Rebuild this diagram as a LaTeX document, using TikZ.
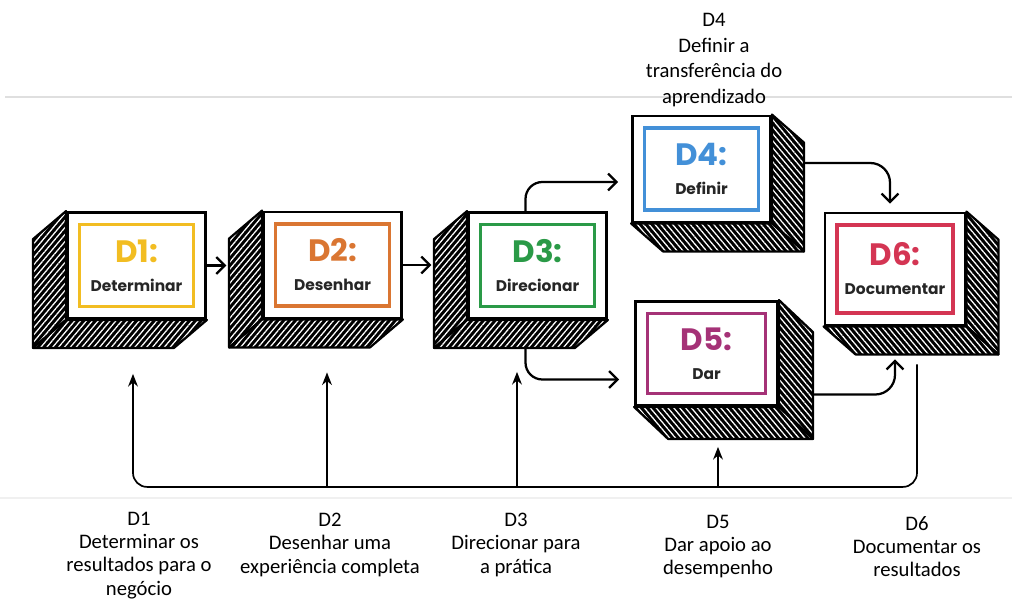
\documentclass[tikz,border=0pt]{standalone}
\usepackage{fontspec}
\setmainfont{Carlito}
\newfontfamily\handfont{Poppins}
\usetikzlibrary{positioning,calc,arrows.meta,patterns.meta}

\definecolor{dumcol}{HTML}{F2BD22}
\definecolor{doiscol}{HTML}{DA7632}
\definecolor{trescol}{HTML}{2A9A47}
\definecolor{quatrocol}{HTML}{4390D8}
\definecolor{cincocol}{HTML}{A53277}
\definecolor{seiscol}{HTML}{D43553}

\tikzset{
  face/.style={rectangle, draw=black, line width=2pt, fill=white,
               minimum width=3.45cm, minimum height=2.65cm, inner sep=0pt,
               align=center, text=black!85, font=\handfont\fontsize{11}{20.6}\selectfont,
               path picture={\draw[#1, line width=2.6pt]
                 ([shift={(.3cm,-.3cm)}]path picture bounding box.north west) rectangle
                 ([shift={(-.3cm,.3cm)}]path picture bounding box.south east);}},
  hatch/.style={draw=black, line width=1.6pt, line join=round, preaction={fill=black},
                pattern={Lines[angle=#1,distance=3.2pt,line width=0.9pt]}, pattern color=white},
  flow/.style={line width=1.6pt, -{Straight Barb[length=6pt,width=12pt]}},
  fb/.style={line width=1.2pt},
  fbtip/.style={fb, -{Stealth[length=9pt,width=7pt]}},
  lbl/.style={align=center, inner sep=0pt, anchor=north, font=\fontsize{14.7}{16.5}\selectfont}
}

\begin{document}
\begin{tikzpicture}[x=0.025cm, y=-0.025cm]
\useasboundingbox (0,0) rectangle (1012,599);

% faint slide lines
\draw[gray!25, line width=0.8pt] (5,97) -- (1012,97);
\draw[gray!12, line width=0.8pt] (0,498) -- (1012,498);

% front faces
\node[face=dumcol] (d1) at (136.5,265.5)
  {{\fontsize{22}{20.6}\selectfont\bfseries\color{dumcol}D1:}\\\textbf{Determinar}};
\node[face=doiscol] (d2) at (332.5,265)
  {{\fontsize{22}{20.6}\selectfont\bfseries\color{doiscol}D2:}\\\textbf{Desenhar}};
\node[face=trescol] (d3) at (537.5,265.5)
  {{\fontsize{22}{20.6}\selectfont\bfseries\color{trescol}D3:}\\\textbf{Direcionar}};
\node[face=quatrocol] (d4) at (701.5,169)
  {{\fontsize{22}{20.6}\selectfont\bfseries\color{quatrocol}D4:}\\\textbf{Definir}};
\node[face=cincocol, minimum width=3.55cm, minimum height=2.6cm] (d5) at (706.5,353.5)
  {{\fontsize{22}{20.6}\selectfont\bfseries\color{cincocol}D5:}\\\textbf{Dar}};
\node[face=seiscol, minimum width=3.5cm, minimum height=2.8cm] (d6) at (895,269)
  {{\fontsize{22}{20.6}\selectfont\bfseries\color{seiscol}D6:}\\\textbf{Documentar}};

% hatched sides and bottoms
\foreach \n/\dx/\dy/\s/\a in {d1/-33/28/west/50, d2/-33/28/west/50, d3/-33/28/west/50,
                               d4/32/28/east/-50, d5/34/32/east/-50, d6/32/28/east/-50} {
  \draw[hatch=\a] (\n.north \s) -- ++(\dx,\dy) -- ($(\n.south \s)+(\dx,\dy)$) -- (\n.south \s) -- cycle;
  \draw[hatch=\a] (\n.south west) -- ++(\dx,\dy) -- ($(\n.south east)+(\dx,\dy)$) -- (\n.south east) -- cycle;
  \coordinate (\n-side) at ($(\n.\s)+(\dx,\dy)$);
}

% flow between the steps
\draw[flow] (d1.east) -- ([xshift=-2pt]d1.east -| d2-side);
\draw[flow] (d2.east) -- ([xshift=-2pt]d2.east -| d3-side);
\draw[flow, rounded corners=12pt] ($(d3.north)+(-12,0)$) |- ($(d4.west)+(-13,13)$);
\draw[flow, rounded corners=12pt] ($(d3.south)+(-12,29)$) |- ($(d5.west)+(-15,26)$);
\draw[flow, rounded corners=14pt] ($(d4.east)+(32,-6)$) -| ($(d6.north)+(-5,-8)$);
\draw[flow, rounded corners=14pt] ($(d5.east)+(34,41)$) -| ($(d6.south)+(0,33)$);

% feedback line
\coordinate (base) at ($(d1.south)+(-3.5,167)$);
\draw[fbtip, rounded corners=10pt] ($(d6.south)+(22,38)$) |- (base) -- ($(d1.south)+(-3.5,54)$);
\draw[fbtip] ($(d2.south)+(-5.5,167)$) -- ($(d2.south)+(-5.5,53)$);
\draw[fbtip] ($(d3.south)+(-20.5,166.5)$) -- ($(d3.south)+(-20.5,52)$);
\draw[fbtip] ($(d5.south)+(11.5,80)$) -- ($(d5.south)+(11.5,40)$);

% labels
\node[lbl, font=\fontsize{14.7}{18.2}\selectfont] (l4) at (714,13)
  {D4\\Definir a\\transferência do\\aprendizado};
\node[lbl] (l1) at (139,512) {D1\\Determinar os\\resultados para o\\negócio};
\node[lbl] (l2) at (330,513) {D2\\Desenhar uma\\experiência completa};
\node[lbl] (l3) at (516,513) {D3\\Direcionar para\\a prática};
\node[lbl] (l5) at (718,515) {D5\\Dar apoio ao\\desempenho};
\node[lbl] (l6) at (917,516) {D6\\Documentar os\\resultados};
\end{tikzpicture}
\end{document}
